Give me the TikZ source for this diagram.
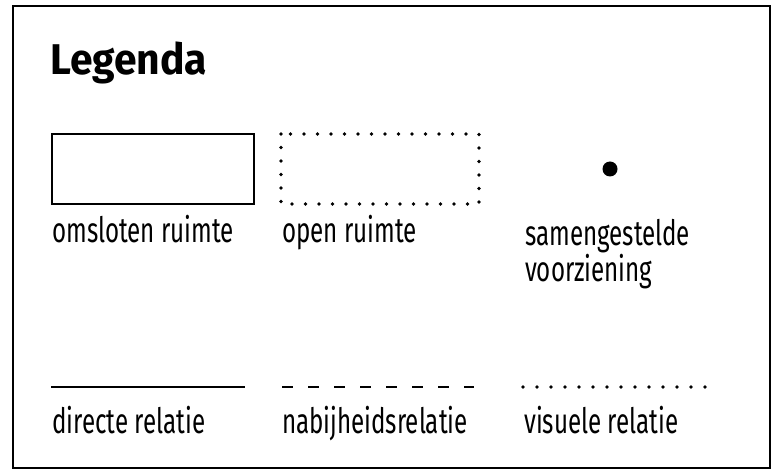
\documentclass[tikz,border=0pt]{standalone}
\usepackage{fontspec}
\setmainfont{Fira Sans}[FakeStretch=0.69]
\newfontfamily\titlefont{Fira Sans Bold}[FakeStretch=0.95]

\tikzset{
  legendlabel/.style={anchor=base west, inner sep=0pt, font=\fontsize{35}{36}\selectfont, align=left},
  legendtitle/.style={anchor=base west, inner sep=0pt, font=\titlefont\fontsize{43}{48}\selectfont},
  dotline/.style={line width=3.6pt, line cap=round, dash pattern=on 0pt off 13.5pt},
}

\begin{document}
\begin{tikzpicture}[x=1pt,y=-1pt]

  \useasboundingbox (0,0) rectangle (774,470);

  % --- Frame ---
  \draw[line width=2pt] (13,6) rectangle (770,468);

  % --- Title ---
  \node[legendtitle] (title) at (50,75) {Legenda};

  % --- Spaces ---
  \draw[line width=1.3pt] (52,134) rectangle (254,204);
  \draw[dotline] (281,134) rectangle (479,204);
  \fill (610,169) circle (7.5);

  \node[legendlabel] (closed) at (52,243) {omsloten ruimte};
  \node[legendlabel] (open) at (282,243) {open ruimte};
  \node[legendlabel] (combined) at (525,282) {samengestelde\\voorziening};

  % --- Relations ---
  \coordinate (directA) at (51,387);
  \coordinate (directB) at (245,387);
  \coordinate (nearA) at (282,387);
  \coordinate (nearB) at (474,387);
  \coordinate (visualA) at (523,387);
  \coordinate (visualB) at (719,387);

  \draw[line width=2.8pt] (directA) -- (directB);
  \draw[line width=2.8pt, dash pattern=on 11pt off 15pt] (nearA) -- (nearB);
  \draw[dotline, dash pattern=on 0pt off 14pt] (visualA) -- (visualB);

  \node[legendlabel] (direct) at (52,433) {directe relatie};
  \node[legendlabel] (near) at (282,433) {nabijheidsrelatie};
  \node[legendlabel] (visual) at (524,433) {visuele relatie};

\end{tikzpicture}
\end{document}
